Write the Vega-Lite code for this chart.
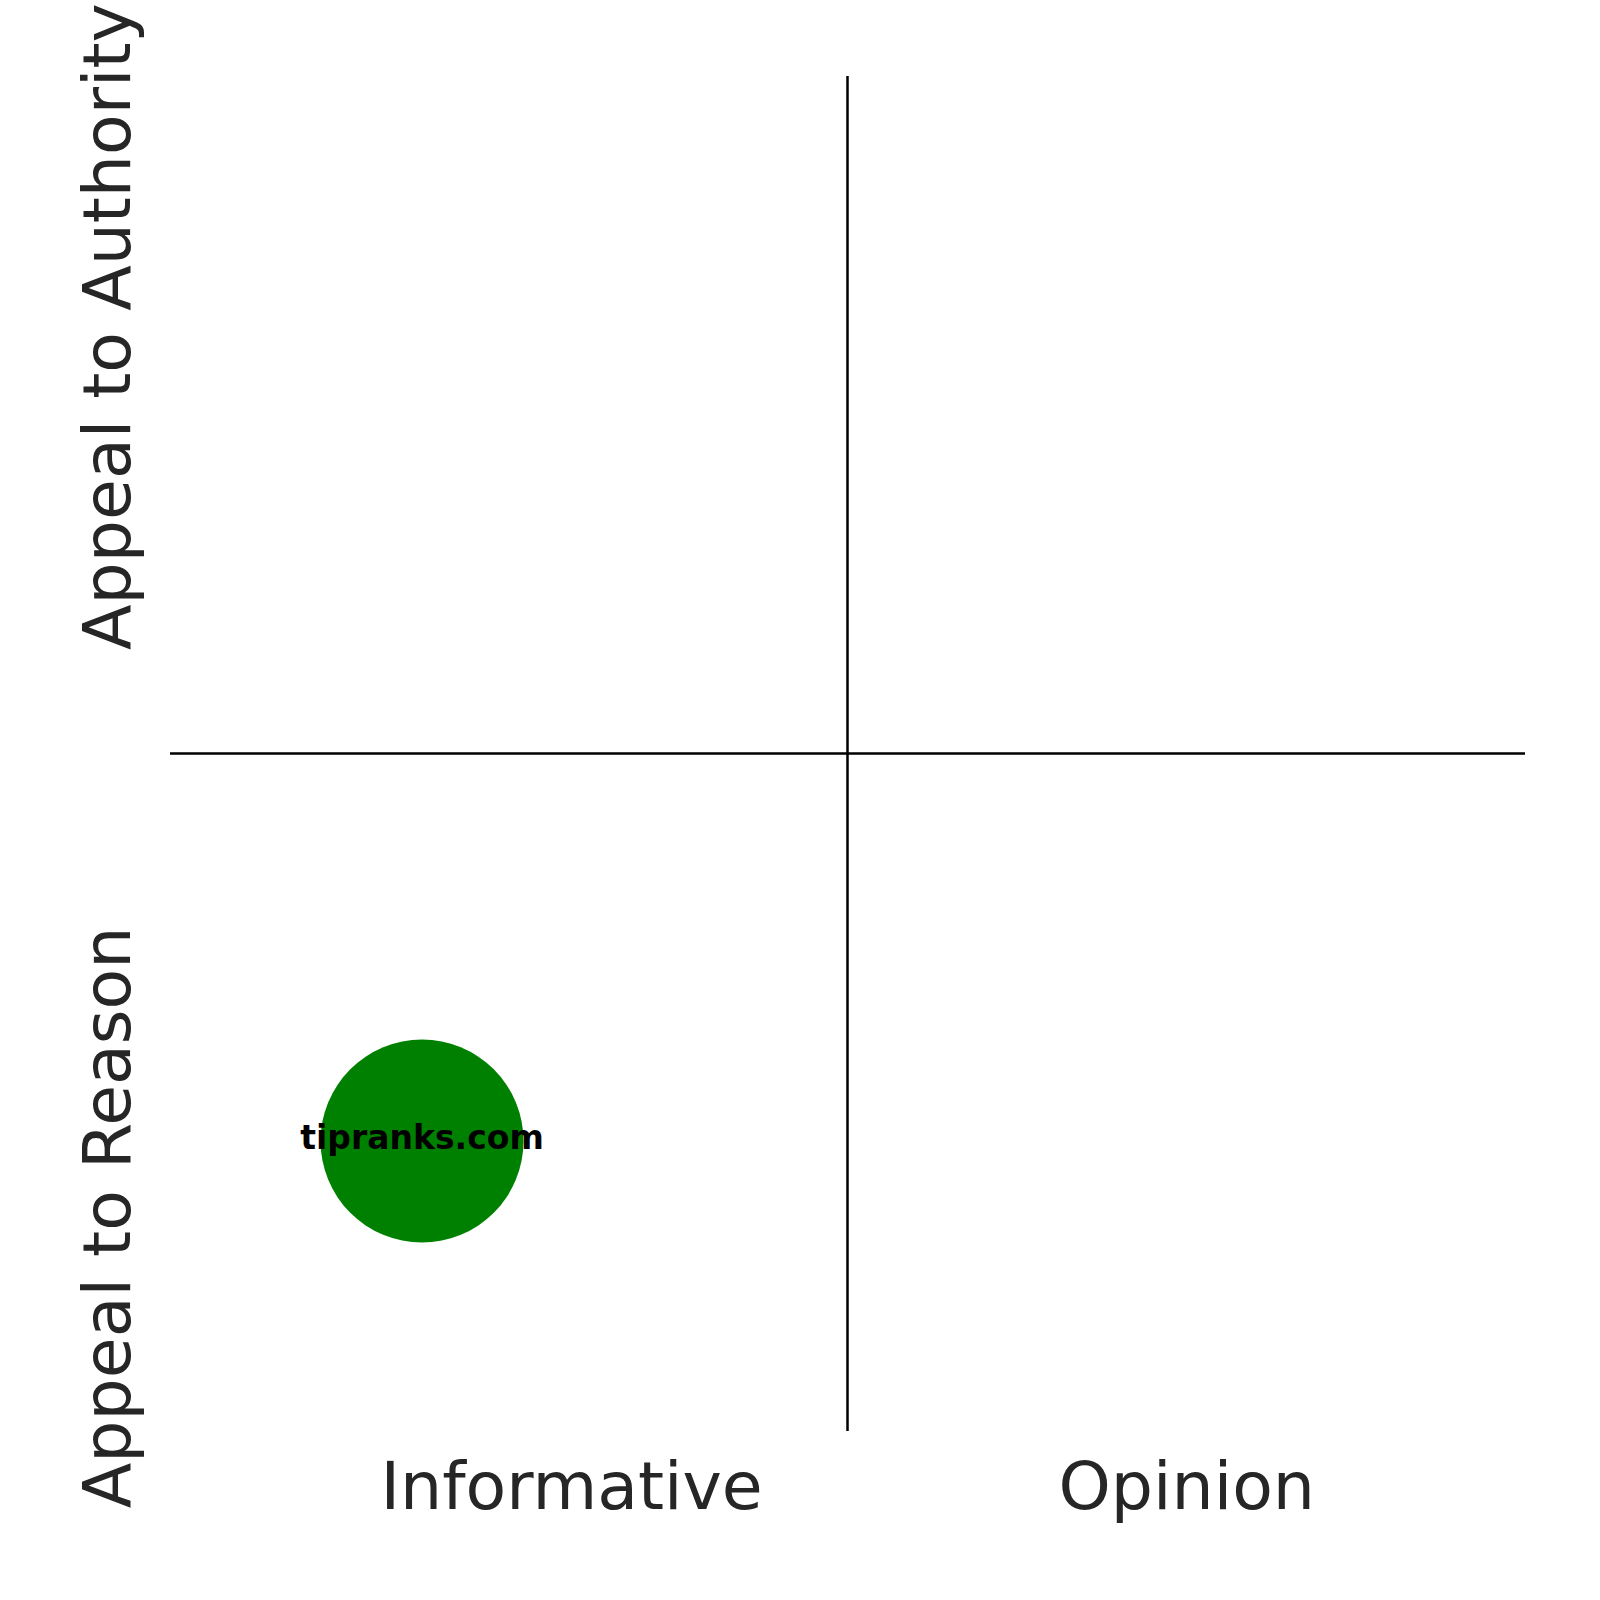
{
  "$schema": "https://vega.github.io/schema/vega-lite/v6.json",
  "width": 1355,
  "height": 1355,
  "autosize": "none",
  "padding": {"left": 170, "top": 76, "right": 75, "bottom": 169},
  "background": "white",
  "config": {
    "view": {"stroke": null},
    "font": "DejaVu Sans"
  },
  "datasets": {
    "lines": [
      {"x": 0, "x2": 1, "y": 0.5, "y2": 0.5},
      {"x": 0.5, "x2": 0.5, "y": 0, "y2": 1}
    ],
    "sites": [
      {"site": "tipranks.com", "informative_opinion": 0.186, "reason_authority": 0.214}
    ]
  },
  "layer": [
    {
      "data": {"name": "lines"},
      "mark": {"type": "rule", "color": "black", "strokeWidth": 2.5},
      "encoding": {
        "x": {
          "field": "x",
          "type": "quantitative",
          "scale": {"domain": [0, 1], "nice": false, "zero": false},
          "axis": {
            "title": null,
            "values": [0.296, 0.75],
            "labelExpr": "datum.value < 0.5 ? 'Informative' : 'Opinion'",
            "domain": false,
            "ticks": false,
            "tickSize": 0,
            "grid": false,
            "labelFontSize": 66.5,
            "labelColor": "#262626",
            "labelBaseline": "alphabetic",
            "labelPadding": 77,
            "labelLimit": 0,
            "labelOverlap": false,
            "labelFlush": false,
            "labelBound": false
          }
        },
        "x2": {"field": "x2"},
        "y": {
          "field": "y",
          "type": "quantitative",
          "scale": {"domain": [0, 1], "nice": false, "zero": false},
          "axis": {
            "title": null,
            "values": [0.158, 0.8155],
            "labelExpr": "datum.value < 0.5 ? 'Appeal to Reason' : 'Appeal to Authority'",
            "domain": false,
            "ticks": false,
            "tickSize": 0,
            "grid": false,
            "labelAngle": -90,
            "labelAlign": "center",
            "labelBaseline": "alphabetic",
            "labelFontSize": 66.5,
            "labelColor": "#262626",
            "labelPadding": 41,
            "labelLimit": 0,
            "labelOverlap": false,
            "labelFlush": false,
            "labelBound": false
          }
        },
        "y2": {"field": "y2"}
      }
    },
    {
      "data": {"name": "sites"},
      "mark": {"type": "circle", "color": "green", "opacity": 1, "size": 41209},
      "encoding": {
        "x": {"field": "informative_opinion", "type": "quantitative"},
        "y": {"field": "reason_authority", "type": "quantitative"}
      }
    },
    {
      "data": {"name": "sites"},
      "mark": {"type": "text", "fontSize": 33, "fontWeight": "bold", "color": "black", "align": "center", "baseline": "middle", "dy": -2},
      "encoding": {
        "x": {"field": "informative_opinion", "type": "quantitative"},
        "y": {"field": "reason_authority", "type": "quantitative"},
        "text": {"field": "site"}
      }
    }
  ]
}
